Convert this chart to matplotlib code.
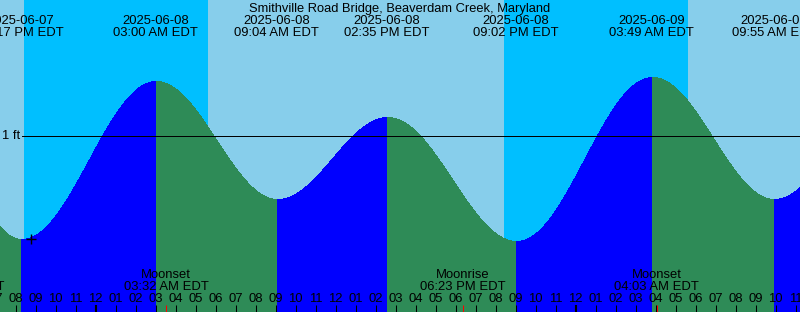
import numpy as np
import pandas as pd
import matplotlib
matplotlib.use("Agg")
import matplotlib.pyplot as plt
import matplotlib.transforms as mtransforms

plt.rcParams['font.family'] = ['Liberation Sans', 'DejaVu Sans']

# ---------------- data ----------------
TITLE = "Smithville Road Bridge, Beaverdam Creek, Maryland"
REF = pd.Timestamp("2025-06-08 00:00")

tide_times = ["2025-06-07 20:17", "2025-06-08 03:00", "2025-06-08 09:04",
              "2025-06-08 14:35", "2025-06-08 21:02", "2025-06-09 03:49",
              "2025-06-09 09:55"]
tide_heights_ft = [0.48, 1.27, 0.68, 1.09, 0.47, 1.29, 0.68]
tide_dates = ["2025-06-07", "2025-06-08", "2025-06-08", "2025-06-08",
              "2025-06-08", "2025-06-09", "2025-06-09"]
tide_clock = ["08:17 PM EDT", "03:00 AM EDT", "09:04 AM EDT", "02:35 PM EDT",
              "09:02 PM EDT", "03:49 AM EDT", "09:55 AM EDT"]

# extremes just beyond the chart edges (estimated from the curve at the edges)
edge_times = ["2025-06-07 15:00", "2025-06-09 15:25"]
edge_heights_ft = [1.10, 1.15]

sunset_times = ["2025-06-07 20:25", "2025-06-08 20:25"]
sunrise_times = ["2025-06-08 05:37", "2025-06-09 05:37"]

moon_events = ["Moonrise", "Moonset", "Moonrise", "Moonset"]
moon_times = ["2025-06-07 17:20", "2025-06-08 03:32", "2025-06-08 18:23",
              "2025-06-09 04:03"]
moon_clock = ["05:20 PM EDT", "03:32 AM EDT", "06:23 PM EDT", "04:03 AM EDT"]

mark_time = "2025-06-07 20:45"
mark_height_ft = 0.485

datum_levels_ft = [1]
datum_labels = ["1 ft"]

# ---------------- style / layout ----------------
W, H = 800, 312
PX_PER_HOUR = 20.0
ORIGIN_PX = 95.5          # pixel column of 2025-06-08 00:00
FILL_SHIFT_PX = 0.8       # colour boundaries sit slightly after event times
PX_PER_FT = 200.0
ONE_FT_PX = 135.5         # pixel row of the 1 ft line

DAY = "#87CEEB"
NIGHT = "#00BFFF"
RISING = "#0000FF"
FALLING = "#2E8B57"
FS = 9.4


def hours(s):
    return (pd.Timestamp(s) - REF) / pd.Timedelta(hours=1)


x0 = -ORIGIN_PX / PX_PER_HOUR
x1 = (W - ORIGIN_PX) / PX_PER_HOUR
y_bottom = 1 - (H - ONE_FT_PX) / PX_PER_FT
y_top = 1 + ONE_FT_PX / PX_PER_FT
shift = FILL_SHIFT_PX / PX_PER_HOUR

fig = plt.figure(figsize=(W / 100, H / 100), dpi=100)
ax = fig.add_axes([0, 0, 1, 1])
ax.set_xlim(x0, x1)
ax.set_ylim(y_bottom, y_top)
ax.axis("off")

trans_xa = mtransforms.blended_transform_factory(ax.transData, ax.transAxes)
trans_ad = mtransforms.blended_transform_factory(ax.transAxes, ax.transData)


def yfrac(py):
    return 1 - py / H


# sky
ax.axvspan(x0, x1, color=DAY, lw=0, zorder=0)
for ss, sr in zip(sunset_times, sunrise_times):
    ax.axvspan(hours(ss), hours(sr), color=NIGHT, lw=0, zorder=0.5)

# tide curve
ext_t = [hours(t) for t in tide_times + edge_times]
ext_h = list(tide_heights_ft) + list(edge_heights_ft)
order = np.argsort(ext_t)
ext_t = np.array(ext_t)[order] + shift
ext_h = np.array(ext_h)[order]
for i in range(len(ext_t) - 1):
    ta, tb = ext_t[i], ext_t[i + 1]
    ha, hb = ext_h[i], ext_h[i + 1]
    tt = np.linspace(ta, tb, 400)
    hh = ha + (hb - ha) * (1 - np.cos(np.pi * (tt - ta) / (tb - ta))) / 2
    ax.fill_between(tt, y_bottom - 1, hh, color=RISING if hb > ha else FALLING,
                    lw=0, antialiased=False, zorder=1)

# datum line(s)
for lv, lab in zip(datum_levels_ft, datum_labels):
    ax.plot([22 / W, 1], [lv, lv], transform=trans_ad, color="black", lw=0.72, zorder=3)
    ax.text(20 / W, lv - 3.5 / PX_PER_FT, lab, transform=trans_ad, ha="right",
            va="baseline", fontsize=FS, zorder=4)

# marker
ax.plot([hours(mark_time)], [mark_height_ft], marker="+", color="black",
        markersize=7, mew=1.0, zorder=4)

# title
ax.text(0.5, yfrac(12), TITLE, transform=ax.transAxes, ha="center",
        va="baseline", fontsize=FS - 0.1, zorder=5)

# tide event labels
for t, d, c in zip(tide_times, tide_dates, tide_clock):
    ax.text(hours(t), yfrac(24), d, transform=trans_xa, ha="center",
            va="baseline", fontsize=FS, zorder=5, clip_on=False)
    ax.text(hours(t), yfrac(36.5), c, transform=trans_xa, ha="center",
            va="baseline", fontsize=FS, zorder=5, clip_on=False)

# moon labels and red ticks
for ev, t, c in zip(moon_events, moon_times, moon_clock):
    ax.text(hours(t), yfrac(278), ev, transform=trans_xa, ha="center",
            va="baseline", fontsize=FS, zorder=5)
    ax.text(hours(t), yfrac(290), c, transform=trans_xa, ha="center",
            va="baseline", fontsize=FS, zorder=5)
    ax.vlines(hours(t), 0, yfrac(305), transform=trans_xa, color="red",
              lw=0.75, zorder=6)

# hour ticks
tick_hours = np.arange(np.floor(x0), np.ceil(x1) + 1)
for h in tick_hours:
    lab = (REF + pd.Timedelta(hours=float(h))).strftime("%I")
    ax.text(h, yfrac(301.7), lab, transform=trans_xa, ha="center",
            va="baseline", fontsize=FS, zorder=5)
    midnight = (h % 24 == 0)
    ax.vlines(h, 0, yfrac(305), transform=trans_xa, color="black",
              lw=1.5 if midnight else 0.75, zorder=6)

fig.savefig("out.png", dpi=100)
